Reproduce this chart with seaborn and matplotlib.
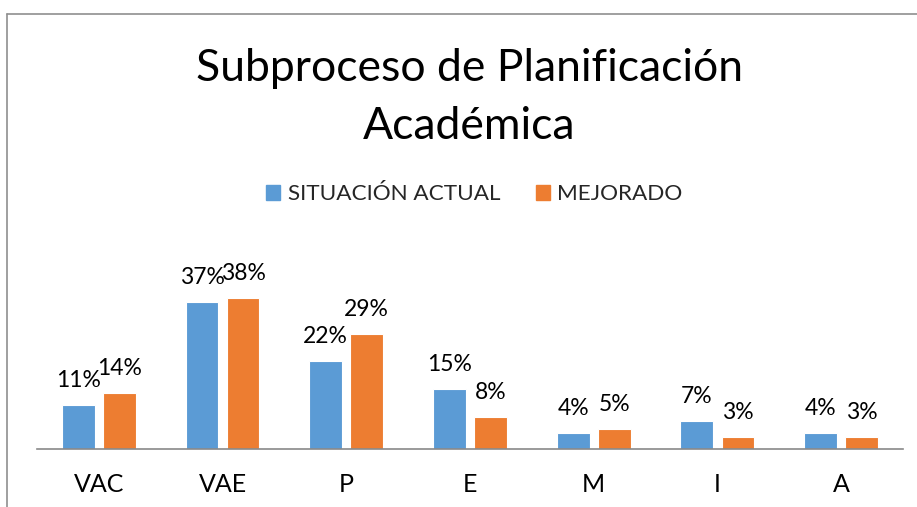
import pandas as pd
import numpy as np
import matplotlib
matplotlib.use('Agg')
import matplotlib.pyplot as plt
import seaborn as sns
from matplotlib.lines import Line2D

categorias = ['VAC', 'VAE', 'P', 'E', 'M', 'I', 'A']
situacion_actual = [0.11, 0.37, 0.22, 0.15, 0.04, 0.07, 0.04]
mejorado = [0.14, 0.38, 0.29, 0.08, 0.05, 0.03, 0.03]
series = ['SITUACIÓN ACTUAL', 'MEJORADO']
colores = ['#5B9BD5', '#ED7D31']

df = pd.DataFrame({
    'categoria': categorias * 2,
    'serie': [series[0]] * len(categorias) + [series[1]] * len(categorias),
    'valor': situacion_actual + mejorado,
})

sns.set_style('white')
plt.rcParams['font.family'] = ['Lato', 'DejaVu Sans']

fig = plt.figure(figsize=(9.17, 5.07), dpi=100)
ax = fig.add_axes([0.0403, 0.1144, 0.9444, 0.314])

sns.barplot(data=df, x='categoria', y='valor', hue='serie', palette=colores,
            saturation=1, width=0.664, gap=0.2, edgecolor='white', linewidth=0.8,
            legend=False, ax=ax)

# etiquetas de datos
for cont in ax.containers:
    etiquetas = ['{:.0f}%'.format(v * 100) for v in cont.datavalues]
    for barra, txt in zip(cont, etiquetas):
        ax.annotate(txt, (barra.get_x() + barra.get_width() / 2, barra.get_height()),
                    xytext=(0, 13), textcoords='offset points',
                    ha='center', va='baseline', fontsize=16.5, color='#000000',
                    annotation_clip=False)

ax.set_ylim(0, 0.40)
ax.set_xlim(-0.5, len(categorias) - 0.5)
ax.set_xlabel('')
ax.set_ylabel('')
ax.set_yticks([])
ax.tick_params(axis='x', length=0, pad=17, labelsize=18, colors='#000000')
for lado in ['top', 'right', 'left']:
    ax.spines[lado].set_visible(False)
ax.spines['bottom'].set_color('#898989')
ax.spines['bottom'].set_linewidth(1.2)

fig.text(0.512, 0.808, 'Subproceso de Planificación\nAcadémica', ha='center', va='center',
         fontsize=32, linespacing=1.5, color='#000000')

handles = [plt.Rectangle((0, 0), 1, 1, color=c) for c in colores]
fig.legend(handles, series, loc='center', bbox_to_anchor=(0.5175, 0.617), ncol=2,
           frameon=False, fontsize=16.2, handlelength=0.62, handleheight=0.62,
           handletextpad=0.35, columnspacing=1.55)

# borde del gráfico
fig.add_artist(Line2D([7 / 917, 1], [1 - 14 / 507, 1 - 14 / 507], color='#8f8f8f', lw=1.2))
fig.add_artist(Line2D([7 / 917, 7 / 917], [0, 1 - 14 / 507], color='#8f8f8f', lw=1.2))

fig.savefig('out.png', dpi=100)
